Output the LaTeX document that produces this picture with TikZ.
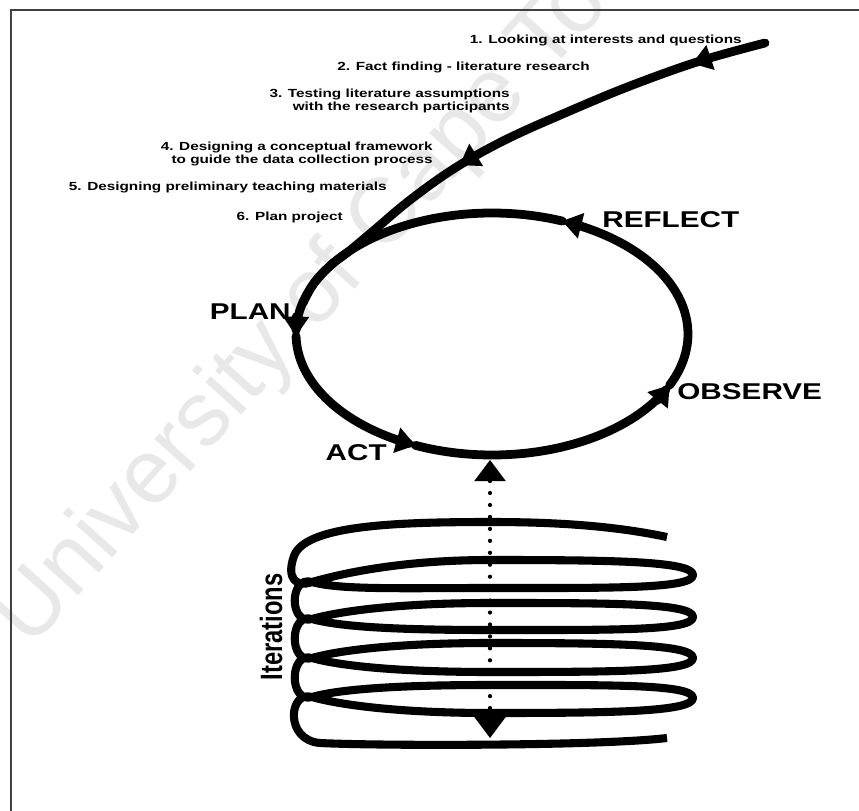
\documentclass[tikz,border=0pt]{standalone}
\usepackage{fontspec}
\setmainfont{Liberation Sans}
\newfontfamily\labfont{Liberation Sans}[FakeStretch=1.3]
\usetikzlibrary{arrows.meta,decorations.markings}

\begin{document}
\begin{tikzpicture}[x=0.02cm,y=-0.02cm,
  >={Triangle[width=15pt,length=11pt,line width=0pt]},
  thick stroke/.style={line width=5pt, line cap=round, line join=round},
  smalltext/.style={font=\labfont\bfseries\fontsize{6.7}{7.4}\selectfont, inner sep=0pt, align=right},
  bigtext/.style={font=\labfont\bfseries\fontsize{13}{15}\selectfont, inner sep=0pt},
  dotted arrow/.style={line width=2.4pt, line cap=round, dash pattern=on 0pt off 6.8pt,
    {Triangle[width=18pt,length=12pt,line width=0pt]}-{Triangle[width=18pt,length=12pt,line width=0pt]}}]

\useasboundingbox (0,0) rectangle (859,811);

% faint watermark
\begin{scope}
  \clip (0,0) rectangle (859,811);
  \node[anchor=base west, rotate=48, text=black!9, inner sep=0pt,
        font=\fontsize{52}{60}\selectfont] (wm) at (30,650) {University of Cape Town};
\end{scope}

% frame
\draw[line width=1.3pt, black!75] (11,811) -- (11,10) -- (859,10);

% lead-in path: steps 1-6 feeding into the cycle
\draw[thick stroke, postaction={decorate, decoration={markings,
      mark=at position 0.14 with {\arrow{>}},
      mark=at position 0.61 with {\arrow{>}}}}]
  plot[smooth, tension=0.6] coordinates {(765,43) (700,61) (630,86) (565,113) (505,140)
    (455,168) (410,200) (372,232) (348,252) (331,265) (314,283) (303,303)};

% the action research cycle
\draw[thick stroke, ->] plot[smooth, variable=\t, domain=0:1, samples=30]
  ({492+196*cos(291-112*\t)}, {334+121*sin(291-112*\t)});
\draw[thick stroke, ->] plot[smooth, variable=\t, domain=0:1, samples=20]
  ({492+196*cos(179-66*\t)}, {334+121*sin(179-66*\t)});
\draw[thick stroke, ->] plot[smooth, variable=\t, domain=0:1, samples=25]
  ({492+196*cos(113-88*\t)}, {334+121*sin(113-88*\t)});
\draw[thick stroke, ->] plot[smooth, variable=\t, domain=0:1, samples=25]
  ({492+196*cos(25-94*\t)}, {334+121*sin(25-94*\t)});

% iterations coil
\draw[line width=4.6pt, line cap=butt, line join=round]
  (667,537) .. controls (610,525) and (550,522) .. (490,522)
  .. controls (390,522) and (305,526) .. (294,556)
  .. controls (286,578) and (296,588) .. (312,582)
  .. controls (340,574) and (400,560) .. (490,560)
  .. controls (610,560) and (693,561) .. (693,575)
  .. controls (693,589) and (610,588) .. (490,588)
  .. controls (400,588) and (340,590) .. (312,582)
  .. controls (289,575) and (289,626) .. (312,619)
  .. controls (340,611) and (400,603) .. (490,603)
  .. controls (610,603) and (693,603) .. (693,617)
  .. controls (693,631) and (610,630) .. (490,630)
  .. controls (400,630) and (340,627) .. (312,619)
  .. controls (289,612) and (289,665) .. (312,658)
  .. controls (340,650) and (400,643) .. (490,643)
  .. controls (610,643) and (693,644) .. (693,658)
  .. controls (693,672) and (610,672) .. (490,672)
  .. controls (400,672) and (340,666) .. (312,658)
  .. controls (289,651) and (289,704) .. (312,697)
  .. controls (340,689) and (400,685) .. (490,685)
  .. controls (610,685) and (693,684) .. (693,698)
  .. controls (693,712) and (610,713) .. (490,713)
  .. controls (400,713) and (340,705) .. (312,697)
  .. controls (289,690) and (284,740) .. (320,743)
  .. controls (380,746) and (600,746) .. (667,738);

% dotted double arrow through the coil
\coordinate (dtop) at (490,460);
\coordinate (dbot) at (490,738);
\draw[dotted arrow] (dtop) -- (dbot);

% step texts
\node[smalltext, anchor=east] (t1) at (742,40) {1. Looking at interests and questions};
\node[smalltext, anchor=east] (t2) at (590,67) {2. Fact finding - literature research};
\node[smalltext, anchor=east] (t3) at (510,101) {3. Testing literature assumptions\\with the research participants};
\node[smalltext, anchor=east] (t4) at (433,154) {4. Designing a conceptual framework\\to guide the data collection process};
\node[smalltext, anchor=east] (t5) at (387,187) {5. Designing preliminary teaching materials};
\node[smalltext, anchor=east] (t6) at (343,217) {6. Plan project};

% cycle labels
\node[bigtext, anchor=west] (reflect) at (602,220) {REFLECT};
\node[bigtext, anchor=west] (observe) at (677,392) {OBSERVE};
\node[bigtext, anchor=east] (plan) at (291,312) {PLAN};
\node[bigtext, anchor=east] (act) at (387,453) {ACT};

\node[rotate=90, inner sep=0pt, font=\bfseries\fontsize{13.5}{15}\selectfont] (iter) at (271,627)
  {\scalebox{1}[1.3]{Iterations}};

\end{tikzpicture}
\end{document}
